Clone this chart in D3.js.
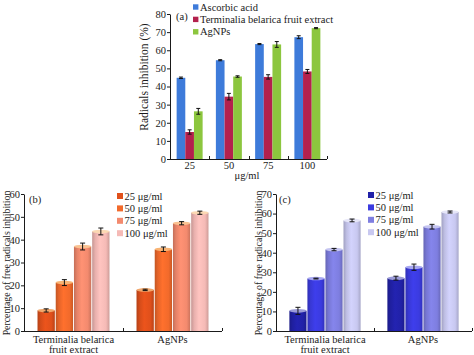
<!DOCTYPE html>
<html><head><meta charset="utf-8">
<script src="https://cdn.jsdelivr.net/npm/d3@7"></script>
<style>
body{margin:0;background:#fff}
svg{display:block}
text{font-family:"Liberation Serif","Times New Roman",serif;fill:#1a1a1a}
</style>
</head><body>
<svg id="chart" width="474" height="355"></svg>
<script>
// ---------- Panel (a) data ----------
const doseLabels = ["25", "50", "75", "100"];
const seriesA = ["Ascorbic acid", "Terminalia belarica fruit extract", "AgNPs"];
const ascorbicValues = [44.8, 54.5, 63.4, 67.2];
const ascorbicErrors = [0.4, 0.3, 0.3, 0.8];
const terminaliaValues = [14.9, 34.4, 45.3, 48.3];
const terminaliaErrors = [1.2, 1.8, 1.2, 1.1];
const agnpValues = [26.3, 45.5, 63.2, 72.2];
const agnpErrors = [1.6, 0.4, 1.6, 0.3];
const seriesAColors = ["#3E7BDA", "#B3214D", "#8CC63E"];
const yTicksA = [0, 10, 20, 30, 40, 50, 60, 70, 80];

// ---------- Panels (b), (c) data ----------
const sampleCategories = ["Terminalia belarica fruit extract", "AgNPs"];
const sampleLabelLines = [["Terminalia belarica", "fruit extract"], ["AgNPs"]];
const concentrationLabels = ["25 μg/ml", "50 μg/ml", "75 μg/ml", "100 μg/ml"];
const bTerminaliaValues = [9.0, 21.2, 37.0, 43.6];
const bTerminaliaErrors = [0.7, 1.3, 1.5, 1.5];
const bAgnpValues = [18.0, 35.8, 47.2, 51.8];
const bAgnpErrors = [0.3, 1.0, 0.7, 0.7];
const cTerminaliaValues = [10.3, 26.8, 41.6, 56.5];
const cTerminaliaErrors = [1.8, 0.2, 0.6, 0.7];
const cAgnpValues = [27.0, 32.6, 53.3, 60.8];
const cAgnpErrors = [1.0, 1.6, 1.2, 0.5];
const bColors = ["#E0501B", "#F26A2B", "#F38A6E", "#F5BAB6"];
const cColors = ["#2121A8", "#3B3BE0", "#7E7EE0", "#C8C8F0"];
const yTicksB = [0, 10, 20, 30, 40, 50, 60];
const yTicksC = [0, 10, 20, 30, 40, 50, 60, 70];

const svg = d3.select("#chart");
svg.append("rect").attr("width", 474).attr("height", 355).attr("fill", "#fff");
const defs = svg.append("defs");

function styleAxis(g) {
  g.selectAll("path,line").attr("stroke", "#1a1a1a").attr("stroke-width", 1);
  g.selectAll("text").attr("font-family", "Liberation Serif, Times New Roman, serif").attr("fill", "#1a1a1a");
}

function errorBar(g, x, yScale, v, e, cap, color) {
  const y1 = yScale(v + e), y2 = yScale(v - e);
  g.append("line").attr("x1", x).attr("x2", x).attr("y1", y1).attr("y2", y2).attr("stroke", color).attr("stroke-width", 1);
  g.append("line").attr("x1", x - cap / 2).attr("x2", x + cap / 2).attr("y1", y1).attr("y2", y1).attr("stroke", color).attr("stroke-width", 1);
  g.append("line").attr("x1", x - cap / 2).attr("x2", x + cap / 2).attr("y1", y2).attr("y2", y2).attr("stroke", color).attr("stroke-width", 1);
}

// ================= Panel (a) =================
(function () {
  const left = 170, right = 327, top = 14, bottom = 159;
  const x = d3.scaleBand().domain(doseLabels).range([left, right]).paddingInner(0.338).paddingOuter(0.169);
  const xs = d3.scaleBand().domain(seriesA).range([0, x.bandwidth()]);
  const y = d3.scaleLinear().domain([0, 80]).range([bottom, top]);
  const g = svg.append("g");
  const seriesValues = [ascorbicValues, terminaliaValues, agnpValues];
  const seriesErrors = [ascorbicErrors, terminaliaErrors, agnpErrors];

  seriesA.forEach((s, si) => {
    doseLabels.forEach((d, di) => {
      const v = seriesValues[si][di];
      g.append("rect").attr("x", x(d) + xs(s)).attr("width", xs.bandwidth())
        .attr("y", y(v)).attr("height", y(0) - y(v)).attr("fill", seriesAColors[si]);
    });
  });
  seriesA.forEach((s, si) => {
    doseLabels.forEach((d, di) => {
      errorBar(g, x(d) + xs(s) + xs.bandwidth() / 2, y, seriesValues[si][di], seriesErrors[si][di], 4, "#111");
    });
  });

  const ya = g.append("g").attr("transform", `translate(${left},0)`)
    .call(d3.axisLeft(y).tickValues(yTicksA).tickSize(3).tickSizeOuter(0).tickPadding(1));
  ya.selectAll("text").attr("font-size", 10.5);
  styleAxis(ya);
  const xa = g.append("g").attr("transform", `translate(0,${bottom})`)
    .call(d3.axisBottom(x).tickSize(0).tickPadding(3));
  xa.select(".domain").remove();
  xa.selectAll("text").attr("font-size", 10.5);
  styleAxis(xa);
  g.append("line").attr("x1", left).attr("x2", right).attr("y1", bottom + 0.5).attr("y2", bottom + 0.5).attr("stroke", "#1a1a1a");
  const step = x.step();
  d3.range(1, doseLabels.length + 1).forEach(i => {
    const xx = Math.round(left + i * step) + 0.5;
    g.append("line").attr("x1", xx).attr("x2", xx).attr("y1", bottom).attr("y2", bottom - 3).attr("stroke", "#1a1a1a");
  });

  g.append("text").attr("x", 247).attr("y", 178.5).attr("text-anchor", "middle").attr("font-size", 10.5).text("μg/ml");
  g.append("text").attr("transform", "translate(148,77) rotate(-90)").attr("text-anchor", "middle").attr("font-size", 11.5).text("Radicals inhibition (%)");
  g.append("text").attr("x", 176).attr("y", 20).attr("font-size", 10.5).text("(a)");

  const lg = g.append("g");
  seriesA.forEach((s, i) => {
    const cy = 7 + i * 12.4;
    lg.append("rect").attr("x", 193).attr("y", cy - 2.7).attr("width", 5.4).attr("height", 5.4).attr("fill", seriesAColors[i]);
    lg.append("text").attr("x", 200).attr("y", cy + 3.6).attr("font-size", 10.5).text(s);
  });
})();

// ================= Panels (b) and (c) =================
function makeGradient(id, base) {
  const c = d3.color(base);
  const lg = defs.append("linearGradient").attr("id", id).attr("x1", "0%").attr("x2", "100%").attr("y1", "0%").attr("y2", "0%");
  lg.append("stop").attr("offset", "0%").attr("stop-color", c.darker(0.6).formatHex());
  lg.append("stop").attr("offset", "18%").attr("stop-color", c.darker(0.15).formatHex());
  lg.append("stop").attr("offset", "45%").attr("stop-color", c.brighter(0.15).formatHex());
  lg.append("stop").attr("offset", "80%").attr("stop-color", c.formatHex());
  lg.append("stop").attr("offset", "100%").attr("stop-color", c.darker(0.5).formatHex());
}

function cylinderPanel(o) {
  const g = svg.append("g");
  const x = d3.scaleBand().domain(sampleCategories).range([o.left, o.right]).paddingInner(0.273).paddingOuter(0.1365);
  const xs = d3.scaleBand().domain(concentrationLabels).range([0, x.bandwidth()]).paddingInner(0.05);
  const y = d3.scaleLinear().domain([0, o.yMax]).range([o.bottom, o.top]);
  o.colors.forEach((c, i) => makeGradient(o.tag + "g" + i, c));

  sampleCategories.forEach((cat, ci) => {
    concentrationLabels.forEach((conc, ki) => {
      const v = o.values[ci][ki];
      const bx = x(cat) + xs(conc), bw = xs.bandwidth();
      g.append("rect").attr("x", bx).attr("width", bw).attr("y", y(v)).attr("height", y(0) - y(v))
        .attr("fill", `url(#${o.tag}g${ki})`);
      g.append("ellipse").attr("cx", bx + bw / 2).attr("cy", y(v)).attr("rx", bw / 2).attr("ry", 1.8)
        .attr("fill", d3.interpolateRgb(o.colors[ki], o.capTint)(0.55));
    });
  });
  sampleCategories.forEach((cat, ci) => {
    concentrationLabels.forEach((conc, ki) => {
      errorBar(g, x(cat) + xs(conc) + xs.bandwidth() / 2, y, o.values[ci][ki], o.errors[ci][ki], 5, "#111");
    });
  });

  const ya = g.append("g").attr("transform", `translate(${o.left},0)`)
    .call(d3.axisLeft(y).tickValues(o.ticks).tickSize(3).tickSizeOuter(0).tickPadding(1));
  ya.selectAll("text").attr("font-size", 10.5);
  styleAxis(ya);

  g.append("line").attr("x1", o.left).attr("x2", o.right).attr("y1", o.bottom + 0.5).attr("y2", o.bottom + 0.5).attr("stroke", "#1a1a1a");
  const step = x.step();
  [1, 2].forEach(i => {
    const xx = Math.round(o.left + i * step) + 0.5;
    g.append("line").attr("x1", xx).attr("x2", xx).attr("y1", o.bottom).attr("y2", o.bottom - 3).attr("stroke", "#1a1a1a");
  });
  const xa = g.append("g").attr("transform", `translate(0,${o.bottom})`)
    .call(d3.axisBottom(x).tickSize(0).tickPadding(4.5).tickFormat(() => ""));
  xa.select(".domain").remove();
  xa.selectAll(".tick text").each(function (d, i) {
    const t = d3.select(this).attr("font-size", 10.5);
    sampleLabelLines[i].forEach((line, li) => {
      t.append("tspan").attr("x", 0).attr("dy", li === 0 ? "0.71em" : "0.92em").text(line);
    });
  }).attr("dy", null);
  styleAxis(xa);

  g.append("text").attr("transform", `translate(${o.labelX},263) rotate(-90)`).attr("text-anchor", "middle")
    .attr("font-size", 9.8).text("Percentage of free radicals inhibition");
  g.append("text").attr("x", o.tagX).attr("y", 202.5).attr("font-size", 10.5).text(o.tagText);

  concentrationLabels.forEach((c, i) => {
    const cy = o.legendY + i * 12.4;
    g.append("rect").attr("x", o.legendX).attr("y", cy - 3).attr("width", 6).attr("height", 6).attr("fill", o.colors[i]);
    g.append("text").attr("x", o.legendX + 7.5).attr("y", cy + 3.6).attr("font-size", 10.5).text(c);
  });
}

cylinderPanel({
  tag: "b", left: 24, right: 222, top: 194, bottom: 331, yMax: 60, ticks: yTicksB,
  values: [bTerminaliaValues, bAgnpValues], errors: [bTerminaliaErrors, bAgnpErrors],
  colors: bColors, capTint: "#fff0b0", labelX: 9.5, tagX: 29, tagText: "(b)", legendX: 117, legendY: 196
});
cylinderPanel({
  tag: "c", left: 276, right: 472, top: 194, bottom: 331, yMax: 70, ticks: yTicksC,
  values: [cTerminaliaValues, cAgnpValues], errors: [cTerminaliaErrors, cAgnpErrors],
  colors: cColors, capTint: "#ffffff", labelX: 261.5, tagX: 279, tagText: "(c)", legendX: 368, legendY: 195
});
</script>
</body></html>
